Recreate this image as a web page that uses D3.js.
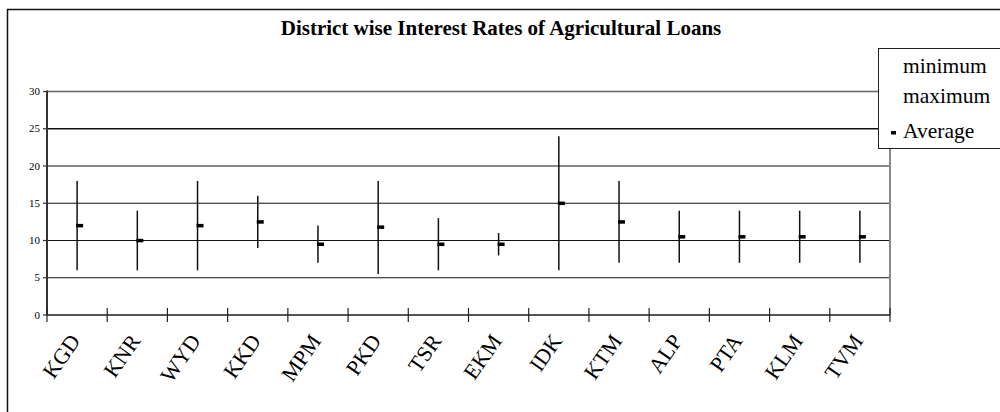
<!DOCTYPE html>
<html>
<head>
<meta charset="utf-8">
<script src="https://d3js.org/d3.v7.min.js"></script>
<style>
  html, body { margin: 0; padding: 0; background: #fff; }
  svg { display: block; font-family: 'Liberation Serif', 'Times New Roman', serif; }
</style>
</head>
<body>
<svg id="chart" width="1000" height="412"></svg>
<script>
const districts = ['KGD', 'KNR', 'WYD', 'KKD', 'MPM', 'PKD', 'TSR', 'EKM', 'IDK', 'KTM', 'ALP', 'PTA', 'KLM', 'TVM'];
const minimum = [6, 6, 6, 9, 7, 5.5, 6, 8, 6, 7, 7, 7, 7, 7];
const maximum = [18, 14, 18, 16, 12, 18, 13, 11, 24, 18, 14, 14, 14, 14];
const average = [12, 10, 12, 12.5, 9.5, 11.8, 9.5, 9.5, 15, 12.5, 10.5, 10.5, 10.5, 10.5];
const yTicks = [0, 5, 10, 15, 20, 25, 30];
const legendItems = ['minimum', 'maximum', 'Average'];

const svg = d3.select('#chart');
const plot = { left: 47, right: 890, top: 91.5, bottom: 315 };

// outer frame (runs off the right/bottom edge like the original)
svg.append('rect')
  .attr('x', 7.5).attr('y', 9.5).attr('width', 1100).attr('height', 600)
  .attr('fill', 'none').attr('stroke', '#111').attr('stroke-width', 1.5);

svg.append('text')
  .attr('x', 501).attr('y', 35)
  .attr('text-anchor', 'middle')
  .attr('font-size', 21).attr('font-weight', 'bold')
  .text('District wise Interest Rates of Agricultural Loans');

const x = d3.scaleBand().domain(districts).range([plot.left, plot.right]);
const y = d3.scaleLinear().domain([0, 30]).range([plot.bottom, plot.top]);

// gridlines
svg.append('g').selectAll('line').data(yTicks.filter(d => d > 0)).join('line')
  .attr('x1', plot.left).attr('x2', plot.right)
  .attr('y1', d => y(d)).attr('y2', d => y(d))
  .attr('stroke', d => d === 30 ? '#666' : '#111').attr('stroke-width', d => d >= 25 ? 1.5 : 1.2);

// right border of plot
svg.append('line')
  .attr('x1', plot.right).attr('x2', plot.right)
  .attr('y1', plot.top).attr('y2', plot.bottom)
  .attr('stroke', '#888').attr('stroke-width', 2);

// y axis
const yAxis = svg.append('g');
yAxis.append('line')
  .attr('x1', plot.left).attr('x2', plot.left).attr('y1', plot.top - 1).attr('y2', plot.bottom + 1)
  .attr('stroke', '#333').attr('stroke-width', 2);
yAxis.selectAll('line.tick').data(yTicks).join('line').attr('class', 'tick')
  .attr('x1', plot.left - 4).attr('x2', plot.left)
  .attr('y1', d => y(d)).attr('y2', d => y(d))
  .attr('stroke', '#333').attr('stroke-width', 1.2);
yAxis.selectAll('text').data(yTicks).join('text')
  .attr('x', plot.left - 7).attr('y', d => y(d) + 3.5)
  .attr('text-anchor', 'end').attr('font-size', 11)
  .text(d => d);

// x axis
const xAxis = svg.append('g');
xAxis.append('line')
  .attr('x1', plot.left).attr('x2', plot.right).attr('y1', plot.bottom).attr('y2', plot.bottom)
  .attr('stroke', '#555').attr('stroke-width', 2);
const bounds = districts.map(d => x(d)).concat([plot.right]);
xAxis.selectAll('line.tick').data(bounds).join('line').attr('class', 'tick')
  .attr('x1', d => d).attr('x2', d => d)
  .attr('y1', plot.bottom - 7).attr('y2', plot.bottom + 7)
  .attr('stroke', '#222').attr('stroke-width', 1.2);
xAxis.selectAll('text').data(districts).join('text')
  .attr('transform', d => `translate(${x(d) + x.bandwidth() / 2 + 4},${plot.bottom + 26}) rotate(-55)`)
  .attr('text-anchor', 'end').attr('font-size', 22)
  .text(d => d);

// hi-lo lines and average marks
const cx = i => x(districts[i]) + x.bandwidth() / 2;
svg.append('g').selectAll('line').data(districts).join('line')
  .attr('x1', (d, i) => cx(i)).attr('x2', (d, i) => cx(i))
  .attr('y1', (d, i) => y(minimum[i])).attr('y2', (d, i) => y(maximum[i]))
  .attr('stroke', '#111').attr('stroke-width', 1.5);
svg.append('g').selectAll('rect').data(districts).join('rect')
  .attr('x', (d, i) => cx(i) - 1).attr('width', 7)
  .attr('y', (d, i) => y(average[i]) - 1.7).attr('height', 3.5)
  .attr('fill', '#000');

// legend
const legend = svg.append('g');
legend.append('rect')
  .attr('x', 878.5).attr('y', 48.5).attr('width', 200).attr('height', 100)
  .attr('fill', '#fff').attr('stroke', '#222').attr('stroke-width', 1);
legend.selectAll('text').data(legendItems).join('text')
  .attr('x', 903).attr('y', (d, i) => [73, 103, 138][i])
  .attr('font-size', 21.5)
  .text(d => d);
legend.append('rect')
  .attr('x', 891).attr('y', 131).attr('width', 5).attr('height', 3.5)
  .attr('fill', '#000');
</script>
</body>
</html>
